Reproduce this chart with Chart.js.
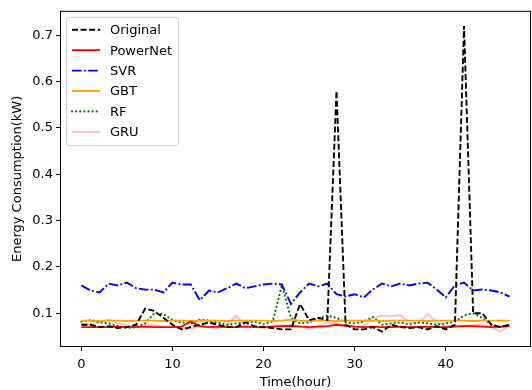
<!DOCTYPE html>
<html>
<head>
<meta charset="utf-8">
<script src="https://cdn.jsdelivr.net/npm/chart.js@4"></script>
<style>
  html, body { margin: 0; padding: 0; background: #fff; }
  #wrap { width: 532px; height: 390px; }
</style>
</head>
<body>
<div id="wrap"><canvas id="chart" width="532" height="390"></canvas></div>
<script>
var hours = [];
for (var h = 0; h < 48; h++) hours.push(h);

var original = [0.075,0.075,0.070,0.072,0.068,0.070,0.075,0.110,0.105,0.090,0.075,0.065,
                0.070,0.075,0.080,0.075,0.070,0.070,0.080,0.072,0.070,0.068,0.065,0.065,
                0.120,0.085,0.090,0.085,0.580,0.075,0.065,0.065,0.070,0.060,0.075,0.070,
                0.068,0.070,0.065,0.072,0.065,0.075,0.720,0.100,0.100,0.075,0.070,0.075];
var powernet = [0.070,0.070,0.070,0.070,0.071,0.070,0.070,0.071,0.070,0.070,0.070,0.071,
                0.082,0.072,0.070,0.071,0.070,0.070,0.071,0.070,0.070,0.071,0.072,0.073,
                0.071,0.070,0.071,0.072,0.075,0.073,0.071,0.070,0.071,0.070,0.070,0.071,
                0.070,0.070,0.071,0.070,0.070,0.071,0.072,0.072,0.071,0.070,0.071,0.072];
var svr = [0.160,0.149,0.145,0.164,0.160,0.166,0.154,0.151,0.151,0.145,0.166,0.162,
           0.162,0.128,0.149,0.145,0.154,0.164,0.154,0.158,0.162,0.164,0.162,0.120,
           0.145,0.164,0.158,0.164,0.141,0.136,0.141,0.134,0.151,0.164,0.158,0.164,
           0.160,0.164,0.166,0.151,0.134,0.160,0.166,0.149,0.151,0.149,0.145,0.136];
var gbt = [0.084,0.084,0.083,0.084,0.084,0.083,0.084,0.084,0.084,0.083,0.084,0.084,
           0.083,0.084,0.084,0.084,0.083,0.084,0.084,0.084,0.084,0.083,0.084,0.086,
           0.084,0.083,0.084,0.084,0.083,0.084,0.084,0.084,0.084,0.083,0.084,0.084,
           0.084,0.084,0.083,0.084,0.084,0.084,0.084,0.083,0.084,0.084,0.084,0.084];
var rf = [0.082,0.085,0.080,0.078,0.072,0.068,0.070,0.078,0.100,0.098,0.085,0.080,
          0.078,0.086,0.084,0.080,0.075,0.078,0.080,0.082,0.076,0.082,0.160,0.090,
          0.078,0.080,0.088,0.095,0.090,0.080,0.078,0.082,0.092,0.075,0.078,0.080,
          0.076,0.080,0.078,0.075,0.078,0.082,0.095,0.100,0.090,0.075,0.070,0.075];
var gru = [0.078,0.075,0.080,0.086,0.078,0.074,0.072,0.076,0.074,0.070,0.072,0.068,
           0.066,0.072,0.070,0.068,0.074,0.095,0.072,0.070,0.068,0.072,0.074,0.070,
           0.072,0.066,0.072,0.080,0.078,0.074,0.070,0.072,0.090,0.095,0.094,0.096,
           0.080,0.078,0.098,0.080,0.072,0.074,0.072,0.074,0.076,0.070,0.060,0.075];

var xTicks = [0, 10, 20, 30, 40];
var yTicks = [0.1, 0.2, 0.3, 0.4, 0.5, 0.6, 0.7];

function pts(arr) {
    return arr.map(function (v, i) { return { x: hours[i], y: v }; });
}

var FONT = "'DejaVu Sans', sans-serif";

var frameAndLegend = {
    id: 'frameAndLegend',
    afterDraw: function (chart) {
        var c = chart.ctx, a = chart.chartArea;
        c.save();
        c.strokeStyle = '#000';
        c.lineWidth = 1;
        c.strokeRect(a.left + 0.5, a.top + 0.5, a.right - a.left - 1, a.bottom - a.top - 1);

        // legend box, upper left, matplotlib style
        var ds = chart.data.datasets;
        var x0 = a.left + 6, y0 = a.top + 6, rowH = 20.4;
        var w = 112, hgt = ds.length * rowH + 6;
        c.fillStyle = 'rgba(255,255,255,0.8)';
        c.strokeStyle = '#d0d0d0';
        c.beginPath();
        c.roundRect(x0 + 0.5, y0 + 0.5, w, hgt, 3);
        c.fill();
        c.stroke();
        c.font = '13px ' + FONT;
        c.textBaseline = 'middle';
        ds.forEach(function (d, i) {
            var yy = y0 + 13 + i * rowH;
            c.strokeStyle = d.borderColor;
            c.lineWidth = d.borderWidth;
            c.lineCap = d.borderCapStyle || 'butt';
            c.setLineDash(d.borderDash || []);
            c.beginPath();
            c.moveTo(x0 + 6, yy);
            c.lineTo(x0 + 34, yy);
            c.stroke();
            c.setLineDash([]);
            c.fillStyle = '#000';
            c.fillText(d.label, x0 + 44, yy + 1);
        });
        c.restore();
    }
};

function line(label, data, color, dash, width, cap) {
    return {
        label: label,
        data: pts(data),
        borderColor: color,
        backgroundColor: color,
        borderWidth: width || 1.9,
        borderDash: dash,
        borderCapStyle: cap || 'butt',
        pointRadius: 0,
        tension: 0,
        fill: false
    };
}

new Chart(document.getElementById('chart'), {
    type: 'line',
    data: {
        datasets: [
            line('Original', original, '#000000', [6, 2.6]),
            line('PowerNet', powernet, '#ff0000', []),
            line('SVR', svr, '#0000ff', [9.6, 2.4, 1.8, 2.4]),
            line('GBT', gbt, '#ffa500', []),
            line('RF', rf, '#008000', [0.1, 4], 2.2, 'round'),
            line('GRU', gru, '#ffc0cb', [])
        ]
    },
    options: {
        responsive: false,
        animation: false,
        layout: { padding: { top: 7, right: 1, left: 0, bottom: 0 } },
        plugins: {
            legend: { display: false },
            tooltip: { enabled: false }
        },
        scales: {
            x: {
                type: 'linear',
                min: -2.35,
                max: 49.35,
                afterBuildTicks: function (s) { s.ticks = xTicks.map(function (v) { return { value: v }; }); },
                afterFit: function (s) { s.height = 43; },
                grid: { display: true, drawOnChartArea: false, drawTicks: true, tickLength: 4, color: '#000' },
                border: { display: false },
                ticks: { color: '#000', font: { family: FONT, size: 13 }, padding: 6, maxRotation: 0 },
                title: { display: true, text: 'Time(hour)', color: '#000', font: { family: FONT, size: 13 }, padding: { top: 0, bottom: 0 } }
            },
            y: {
                type: 'linear',
                min: 0.027,
                max: 0.753,
                afterBuildTicks: function (s) { s.ticks = yTicks.map(function (v) { return { value: v }; }); },
                afterFit: function (s) { s.width = 60; },
                grid: { display: true, drawOnChartArea: false, drawTicks: true, tickLength: 4, color: '#000' },
                border: { display: false },
                ticks: {
                    color: '#000', font: { family: FONT, size: 13 }, padding: 3,
                    callback: function (v) { return v.toFixed(1); }
                },
                title: { display: true, text: 'Energy Consumption(kW)', color: '#000', font: { family: FONT, size: 13 }, padding: { top: 10, bottom: 4 } }
            }
        }
    },
    plugins: [frameAndLegend]
});
</script>
</body>
</html>
